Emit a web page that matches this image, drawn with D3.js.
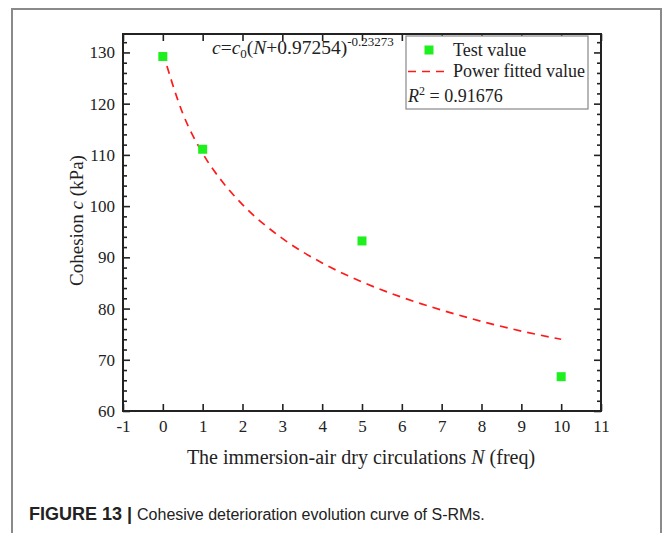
<!DOCTYPE html>
<html>
<head>
<meta charset="utf-8">
<script src="https://cdn.jsdelivr.net/npm/d3@7"></script>
<style>
body { margin: 0; background: #fff; }
svg { display: block; }
</style>
</head>
<body>
<script>
// test values
var cycles = [0, 1, 5, 10];
var cohesion = [129.2, 111.1, 93.2, 66.7];

// fitted power curve
var fitCycles = [0, 0.5, 1, 1.5, 2, 3, 4, 5, 6, 7, 8, 9, 10];
var fitCohesion = [130.0, 118.1, 110.3, 104.7, 100.3, 93.7, 88.9, 85.2, 82.2, 79.7, 77.5, 75.6, 74.0];

var xTicks = [-1, 0, 1, 2, 3, 4, 5, 6, 7, 8, 9, 10, 11];
var yTicks = [60, 70, 80, 90, 100, 110, 120, 130];
var yMinorTicks = [62, 64, 66, 68, 72, 74, 76, 78, 82, 84, 86, 88, 92, 94, 96, 98, 102, 104, 106, 108, 112, 114, 116, 118, 122, 124, 126, 128, 132];

var Chart = function() {
	this.width = 664;
	this.height = 533;
	this.left = 123;
	this.right = 601;
	this.top = 34;
	this.bottom = 411;
	this.serif = '"Liberation Serif", "DejaVu Serif", serif';
};

Chart.prototype.draw = function() {
	var _this = this;

	var svg = d3.select('body')
		.append('svg')
		.attr('width', this.width)
		.attr('height', this.height);

	// outer figure frame
	svg.append('rect')
		.attr('x', 12)
		.attr('y', 9)
		.attr('width', 649)
		.attr('height', 560)
		.attr('fill', 'none')
		.attr('stroke', '#8a8a8a')
		.attr('stroke-width', 2);

	var x = d3.scaleLinear().domain([-1, 11]).range([this.left, this.right]);
	var y = d3.scaleLinear().domain([60, 133.6]).range([this.bottom, this.top]);

	var plain = function(d) { return String(d); };

	// axes
	svg.append('g')
		.attr('transform', 'translate(0,' + this.bottom + ')')
		.call(d3.axisBottom(x).tickValues(xTicks).tickSizeInner(-7).tickSizeOuter(0).tickPadding(9).tickFormat(plain));

	svg.append('g')
		.attr('transform', 'translate(0,' + this.top + ')')
		.call(d3.axisTop(x).tickValues(xTicks).tickSizeInner(-7).tickSizeOuter(0).tickFormat(''));

	svg.append('g')
		.attr('transform', 'translate(' + this.left + ',0)')
		.call(d3.axisLeft(y).tickValues(yTicks).tickSizeInner(-7).tickSizeOuter(0).tickPadding(8).tickFormat(plain));

	svg.append('g')
		.attr('transform', 'translate(' + this.left + ',0)')
		.call(d3.axisLeft(y).tickValues(yMinorTicks).tickSizeInner(-4).tickSizeOuter(0).tickFormat(''));

	svg.append('g')
		.attr('transform', 'translate(' + this.right + ',0)')
		.call(d3.axisRight(y).tickValues(yTicks).tickSizeInner(-7).tickSizeOuter(0).tickFormat(''));

	svg.append('g')
		.attr('transform', 'translate(' + this.right + ',0)')
		.call(d3.axisRight(y).tickValues(yMinorTicks).tickSizeInner(-4).tickSizeOuter(0).tickFormat(''));

	svg.selectAll('.domain').remove();
	svg.selectAll('.tick line').attr('stroke', '#222').attr('stroke-width', 1.6);
	svg.selectAll('.tick text')
		.attr('font-family', this.serif)
		.attr('font-size', 17)
		.attr('fill', '#222');

	svg.append('rect')
		.attr('x', this.left)
		.attr('y', this.top)
		.attr('width', this.right - this.left)
		.attr('height', this.bottom - this.top)
		.attr('fill', 'none')
		.attr('stroke', '#222')
		.attr('stroke-width', 2);

	// axis titles
	var xTitle = svg.append('text')
		.attr('x', 361)
		.attr('y', 464)
		.attr('text-anchor', 'middle')
		.attr('font-family', this.serif)
		.attr('font-size', 20)
		.attr('fill', '#222');
	xTitle.append('tspan').text('The immersion-air dry circulations ');
	xTitle.append('tspan').attr('font-style', 'italic').text('N');
	xTitle.append('tspan').text(' (freq)');

	var yTitle = svg.append('text')
		.attr('transform', 'translate(83,' + ((this.top + this.bottom) / 2 - 2) + ') rotate(-90)')
		.attr('text-anchor', 'middle')
		.attr('font-family', this.serif)
		.attr('font-size', 19)
		.attr('fill', '#222');
	yTitle.append('tspan').text('Cohesion ');
	yTitle.append('tspan').attr('font-style', 'italic').text('c');
	yTitle.append('tspan').text(' (kPa)');

	// fitted curve
	var line = d3.line()
		.x(function(d, i) { return x(fitCycles[i]); })
		.y(function(d) { return y(d); })
		.curve(d3.curveMonotoneX);

	svg.append('path')
		.datum(fitCohesion)
		.attr('d', line)
		.attr('fill', 'none')
		.attr('stroke', '#ff1a1a')
		.attr('stroke-width', 1.7)
		.attr('stroke-dasharray', '8,6');

	// test points
	svg.selectAll('rect.point')
		.data(cohesion)
		.enter()
		.append('rect')
		.attr('class', 'point')
		.attr('x', function(d, i) { return x(cycles[i]) - 4.5; })
		.attr('y', function(d) { return y(d) - 4.5; })
		.attr('width', 9)
		.attr('height', 9)
		.attr('fill', '#1ef01e');

	// equation
	var eq = svg.append('text')
		.attr('x', 212)
		.attr('y', 54)
		.attr('font-family', this.serif)
		.attr('font-size', 19.5)
		.attr('fill', '#222');
	eq.append('tspan').attr('font-style', 'italic').text('c');
	eq.append('tspan').text('=');
	eq.append('tspan').attr('font-style', 'italic').text('c');
	eq.append('tspan').attr('font-size', 13).attr('dy', 4).text('0');
	eq.append('tspan').attr('dy', -4).text('(');
	eq.append('tspan').attr('font-style', 'italic').text('N');
	eq.append('tspan').text('+0.97254)');
	eq.append('tspan').attr('font-size', 13).attr('dy', -8).text('-0.23273');

	// legend
	var legend = svg.append('g');
	legend.append('rect')
		.attr('x', 406)
		.attr('y', 36)
		.attr('width', 182)
		.attr('height', 73)
		.attr('fill', '#fff')
		.attr('stroke', '#888')
		.attr('stroke-width', 1.2);
	legend.append('rect')
		.attr('x', 424.5)
		.attr('y', 45.5)
		.attr('width', 9)
		.attr('height', 9)
		.attr('fill', '#1ef01e');
	legend.append('line')
		.attr('x1', 408)
		.attr('x2', 446)
		.attr('y1', 71.5)
		.attr('y2', 71.5)
		.attr('stroke', '#ff1a1a')
		.attr('stroke-width', 1.7)
		.attr('stroke-dasharray', '8,6');
	legend.append('text')
		.attr('x', 453)
		.attr('y', 56)
		.attr('font-family', this.serif)
		.attr('font-size', 18)
		.attr('fill', '#222')
		.text('Test value');
	legend.append('text')
		.attr('x', 453)
		.attr('y', 77)
		.attr('font-family', this.serif)
		.attr('font-size', 18)
		.attr('fill', '#222')
		.text('Power fitted value');
	var r2 = legend.append('text')
		.attr('x', 408)
		.attr('y', 102)
		.attr('font-family', this.serif)
		.attr('font-size', 18)
		.attr('fill', '#222');
	r2.append('tspan').attr('font-style', 'italic').text('R');
	r2.append('tspan').attr('font-size', 12).attr('dy', -7).text('2');
	r2.append('tspan').attr('dy', 7).text(' = 0.91676');

	// caption
	var caption = svg.append('text')
		.attr('x', 29)
		.attr('y', 520)
		.attr('font-family', '"Liberation Sans", Arial, sans-serif')
		.attr('fill', '#222');
	caption.append('tspan').attr('font-weight', 'bold').attr('font-size', 18).text('FIGURE 13 | ');
	caption.append('tspan').attr('font-size', 16).text('Cohesive deterioration evolution curve of S-RMs.');
};

var chart = new Chart();
chart.draw();
</script>
</body>
</html>
